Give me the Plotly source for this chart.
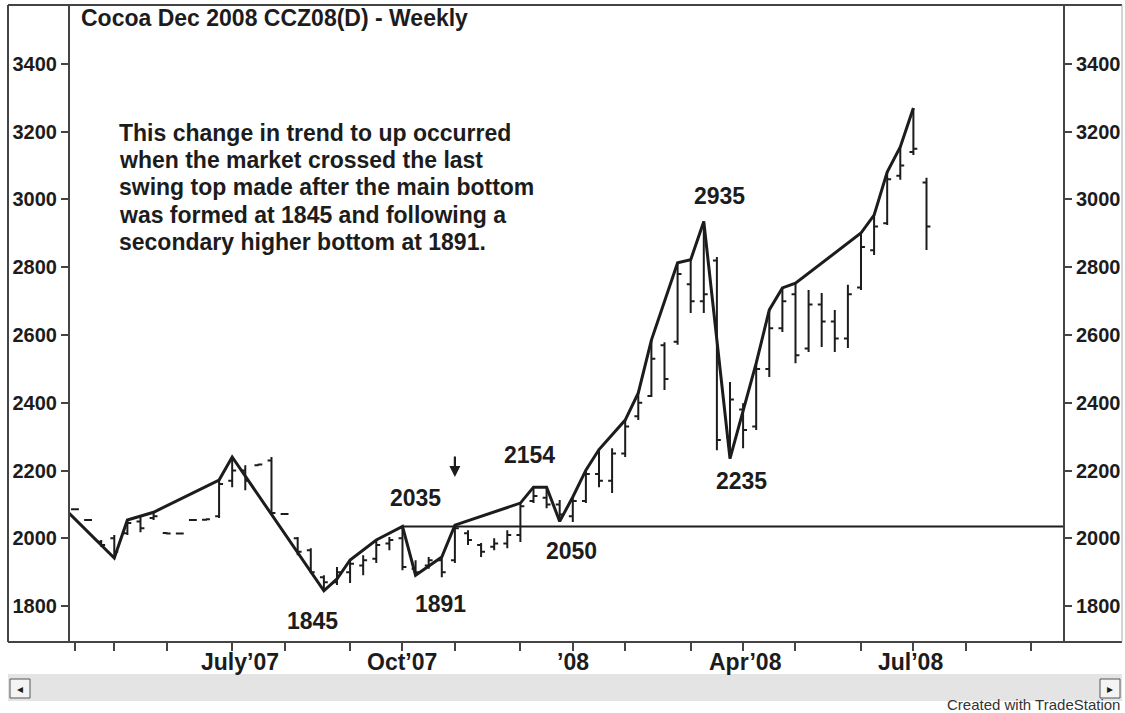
import plotly.graph_objects as go

# ---------------- data ----------------
chart_title = "Cocoa Dec 2008 CCZ08(D) - Weekly"
note_lines = [
    "This change in trend to up occurred",
    "when the market crossed the last",
    "swing top made after the main bottom",
    "was formed at 1845 and following a",
    "secondary higher bottom at 1891.",
]

# weekly bars (bar index 0 = first week of Apr'07)
bar_idx = list(range(66))
opens = [2086, 2054, 1990, 2000, 2015, 2050, 2060, 2016, 2014, 2054,
         2055, 2065, 2170, 2200, 2216, 2230, 2072, 2000, 1965, 1885,
         1870, 1900, 1920, 1940, 1985, 2000, 1910, 1920, 1935, 1935,
         2015, 1980, 1975, 1985, 2010, 2110, 2120, 2100, 2065, 2110,
         2190, 2170, 2250, 2360, 2420, 2570, 2580, 2750, 2700, 2820,
         2300, 2380, 2330, 2500, 2620, 2720, 2560, 2690, 2640, 2590,
         2740, 2850, 2930, 3070, 3140, 3050]
highs = [2088, 2056, 1995, 2010, 2054, 2063, 2077, 2018, 2016, 2056,
         2058, 2172, 2240, 2216, 2220, 2240, 2074, 2004, 1971, 1891,
         1915, 1936, 1950, 1995, 2004, 2035, 1935, 1945, 1945, 2039,
         2024, 1986, 2000, 2024, 2104, 2151, 2151, 2113, 2122, 2201,
         2262, 2266, 2349, 2429, 2585, 2579, 2813, 2822, 2935, 2830,
         2461, 2399, 2517, 2674, 2739, 2753, 2733, 2724, 2674, 2748,
         2901, 2954, 3081, 3155, 3270, 3064]
lows = [2084, 2052, 1975, 1942, 2010, 2018, 2054, 2012, 2012, 2052,
        2052, 2060, 2151, 2142, 2214, 2069, 2070, 1950, 1897, 1845,
        1862, 1868, 1891, 1927, 1965, 1906, 1891, 1910, 1885, 1927,
        1980, 1945, 1965, 1971, 1989, 2104, 2089, 2050, 2048, 2104,
        2151, 2134, 2240, 2349, 2417, 2438, 2571, 2665, 2665, 2260,
        2235, 2266, 2320, 2476, 2609, 2517, 2550, 2565, 2550, 2562,
        2733, 2836, 2925, 3058, 3131, 2851]
closes = [2086, 2054, 1980, 1960, 2045, 2030, 2065, 2014, 2014, 2054,
          2056, 2160, 2200, 2170, 2218, 2075, 2072, 1960, 1900, 1870,
          1900, 1925, 1935, 1980, 1995, 1915, 1900, 1935, 1900, 2030,
          1995, 1960, 1985, 2010, 2095, 2125, 2100, 2070, 2110, 2190,
          2170, 2250, 2330, 2400, 2530, 2470, 2780, 2700, 2720, 2290,
          2410, 2320, 2500, 2620, 2700, 2540, 2690, 2640, 2590, 2720,
          2860, 2920, 3060, 3100, 3150, 2920]

# swing line (bar index, price)
swing_idx = [-1, 3, 4, 6, 11, 12, 19, 20, 21, 23, 25, 26, 28, 29, 34, 35, 36,
             37, 38, 39, 40, 42, 43, 44, 46, 47, 48, 50, 52, 53, 54, 55, 60,
             61, 62, 63, 64]
swing_px = [2095, 1942, 2054, 2077, 2172, 2240, 1845, 1880, 1936, 1995, 2035,
            1891, 1945, 2039, 2104, 2151, 2151, 2050, 2122, 2201, 2262, 2349,
            2429, 2585, 2813, 2822, 2935, 2235, 2517, 2674, 2739, 2753, 2901,
            2954, 3081, 3155, 3270]

# breakout level (last swing top after the main bottom)
level_idx = 25
level_price = 2035
signal_idx = 29   # bar marked with the arrow

# swing labels: bar index, price, text
lab_idx = [48, 50, 35, 37, 25, 26, 19]
lab_price = [2935, 2235, 2151, 2050, 2035, 1891, 1845]
lab_text = ["2935", "2235", "2154", "2050", "2035", "1891", "1845"]
lab_dx = [16, 12, -4, 12, 13, 25, -11]
lab_dy = [26, -22, 32, -30, 28, -29, -30]

# x axis: monthly ticks and labels
month_tick_idx = [0, 3, 7, 12, 16, 21, 25, 29, 34, 38, 42, 47, 51, 55, 60, 64, 68, 73]
month_lab_idx = [12.6, 25, 38, 51.2, 63.8]
month_lab_txt = ["July\u201907", "Oct\u201907", "\u201908", "Apr\u201908", "Jul\u201908"]

y_ticks = [1800, 2000, 2200, 2400, 2600, 2800, 3000, 3200, 3400]
x_range = [-0.38, 75.42]
y_range = [1694, 3574]

# ---------------- figure ----------------
FONT = "Liberation Sans, Arial, Helvetica, sans-serif"
INK = "#1c1c1c"
W, H = 1125, 713
ML, MR, MT, MB = 70, 62, 5, 71
PW, PH = W - ML - MR, H - MT - MB


def px_x(p):
    return (p - ML) / PW


def px_y(p):
    return 1 - (p - MT) / PH


fig = go.Figure()

fig.add_trace(go.Ohlc(
    x=bar_idx, open=opens, high=highs, low=lows, close=closes,
    increasing=dict(line=dict(color=INK, width=2)),
    decreasing=dict(line=dict(color=INK, width=2)),
    tickwidth=0.3, showlegend=False, hoverinfo="skip",
))

fig.add_trace(go.Scatter(
    x=swing_idx, y=swing_px, mode="lines",
    line=dict(color=INK, width=3), showlegend=False, hoverinfo="skip",
))

fig.add_trace(go.Scatter(
    x=[level_idx, x_range[1] + 5], y=[level_price, level_price], mode="lines",
    line=dict(color=INK, width=2), showlegend=False, hoverinfo="skip",
))

# invisible trace so the right-hand price scale is drawn
fig.add_trace(go.Scatter(
    x=swing_idx, y=swing_px, yaxis="y2", mode="lines",
    line=dict(color="rgba(0,0,0,0)", width=0), showlegend=False, hoverinfo="skip",
))

BIG = dict(family=FONT, size=23, color=INK, weight="bold")

annotations = []
for xi, pr, t, dx, dy in zip(lab_idx, lab_price, lab_text, lab_dx, lab_dy):
    annotations.append(dict(
        x=xi, y=pr, xref="x", yref="y", text=t, showarrow=False,
        xshift=dx, yshift=dy, font=BIG, xanchor="center", yanchor="middle",
    ))

# arrow above the breakout bar
annotations.append(dict(
    x=signal_idx, y=highs[signal_idx], xref="x", yref="y", text="",
    showarrow=True, ax=0, ay=-70, standoff=48, arrowhead=2, arrowsize=1,
    arrowwidth=2.2, arrowcolor=INK, font=dict(size=1),
))

for xi, t in zip(month_lab_idx, month_lab_txt):
    annotations.append(dict(
        x=xi, y=px_y(662), xref="x", yref="paper", text=t, showarrow=False,
        font=BIG, xanchor="center", yanchor="middle",
    ))

annotations.append(dict(
    x=px_x(79), y=px_y(18), xref="paper", yref="paper", text=chart_title, showarrow=False,
    font=BIG, xanchor="left", yanchor="middle",
))

for k, line in enumerate(note_lines):
    annotations.append(dict(
        x=px_x(117), y=px_y(133 + 27.2 * k), xref="paper", yref="paper", text=line,
        showarrow=False, align="left", font=BIG, xanchor="left", yanchor="middle",
    ))

annotations.append(dict(
    x=px_x(1122), y=px_y(704), xref="paper", yref="paper", text="Created with TradeStation",
    showarrow=False, font=dict(family=FONT, size=15, color="#333333"),
    xanchor="right", yanchor="middle",
))

# scrollbar arrow glyphs
annotations.append(dict(x=px_x(20), y=px_y(689), xref="paper", yref="paper", text="\u25c2",
                        showarrow=False, xanchor="center", yanchor="middle",
                        font=dict(family="DejaVu Sans", size=12, color=INK)))
annotations.append(dict(x=px_x(1110), y=px_y(689), xref="paper", yref="paper", text="\u25b8",
                        showarrow=False, xanchor="center", yanchor="middle",
                        font=dict(family="DejaVu Sans", size=12, color=INK)))

L, R = px_x(8), px_x(1122)
shapes = [
    # scrollbar band
    dict(type="rect", xref="paper", yref="paper", x0=L, x1=R, y0=px_y(701), y1=px_y(674),
         fillcolor="#e4e4e4", line=dict(width=0), layer="below"),
    # scroll buttons
    dict(type="rect", xref="paper", yref="paper", x0=px_x(10), x1=px_x(30), y0=px_y(698), y1=px_y(679),
         fillcolor="#f4f4f4", line=dict(color="#555555", width=1)),
    dict(type="rect", xref="paper", yref="paper", x0=px_x(1100), x1=px_x(1120), y0=px_y(698), y1=px_y(679),
         fillcolor="#f4f4f4", line=dict(color="#555555", width=1)),
    # outer frame
    dict(type="line", xref="paper", yref="paper", x0=L, x1=R, y0=1, y1=1,
         line=dict(color="#444444", width=2)),
    dict(type="line", xref="paper", yref="paper", x0=L, x1=R, y0=0, y1=0,
         line=dict(color="#444444", width=2)),
    dict(type="line", xref="paper", yref="paper", x0=L, x1=L, y0=0, y1=1,
         line=dict(color="#444444", width=2)),
    dict(type="line", xref="paper", yref="paper", x0=R, x1=R, y0=0, y1=1,
         line=dict(color="#aaaaaa", width=1)),
]

TICKFONT = dict(family=FONT, size=20, color=INK, weight="bold")

fig.update_layout(
    width=W, height=H,
    margin=dict(l=ML, r=MR, t=MT, b=MB),
    paper_bgcolor="white", plot_bgcolor="white",
    showlegend=False,
    xaxis=dict(
        range=x_range, rangeslider=dict(visible=False),
        tickmode="array", tickvals=month_tick_idx, ticktext=[""] * len(month_tick_idx),
        ticks="outside", ticklen=8, tickwidth=1.5, tickcolor="#444444",
        showgrid=False, zeroline=False, showline=False, fixedrange=True,
    ),
    yaxis=dict(
        range=y_range, tickmode="array", tickvals=y_ticks,
        ticks="outside", ticklen=7, tickwidth=1.5, tickcolor="#444444",
        showline=True, linecolor="#444444", linewidth=2,
        showgrid=False, zeroline=False, tickfont=TICKFONT,
    ),
    yaxis2=dict(
        range=y_range, overlaying="y", side="right", tickmode="array", tickvals=y_ticks,
        ticks="outside", ticklen=7, tickwidth=1.5, tickcolor="#444444",
        showline=True, linecolor="#444444", linewidth=2,
        showgrid=False, zeroline=False, tickfont=TICKFONT,
    ),
    annotations=annotations,
    shapes=shapes,
)

fig.write_html(
    "out.html",
    config={"displayModeBar": False},
    post_script="document.body.style.margin='0px';document.body.style.overflow='hidden';",
)
